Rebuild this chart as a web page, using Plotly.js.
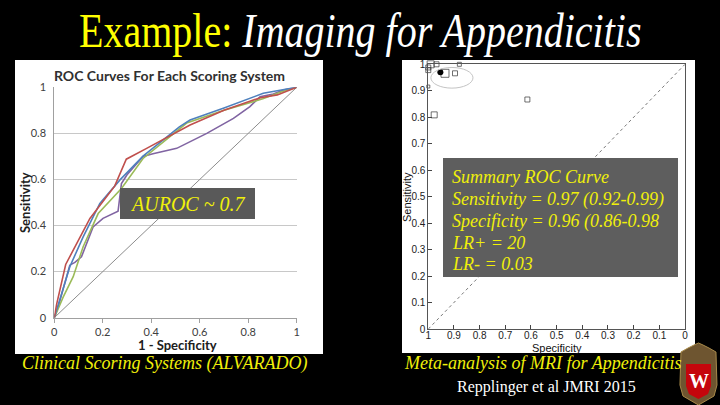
<!DOCTYPE html>
<html>
<head>
<meta charset="utf-8">
<script src="https://cdn.plot.ly/plotly-3.0.1.min.js"></script>
<style>
html,body{margin:0;padding:0;background:#000;}
#chart{width:720px;height:405px;}
</style>
</head>
<body>
<div id="chart"></div>
<script>
// ---------- Left chart: ROC curves for each scoring system (x = 1 - specificity, y = sensitivity)
const redX    = [0, 0.01, 0.047, 0.147, 0.249, 0.297, 0.379, 0.468, 0.56, 0.70, 0.85, 0.92, 1];
const redY    = [0, 0.06, 0.231, 0.431, 0.571, 0.688, 0.734, 0.785, 0.836, 0.90, 0.955, 0.967, 1];
const blueX   = [0, 0.03, 0.064, 0.119, 0.188, 0.27, 0.366, 0.516, 0.56, 0.70, 0.862, 1];
const blueY   = [0, 0.10, 0.221, 0.351, 0.496, 0.597, 0.701, 0.828, 0.858, 0.91, 0.974, 1];
const greenX  = [0, 0.037, 0.078, 0.119, 0.181, 0.277, 0.366, 0.516, 0.546, 0.70, 0.86, 0.938, 1];
const greenY  = [0, 0.09, 0.178, 0.308, 0.452, 0.561, 0.691, 0.821, 0.845, 0.90, 0.95, 0.981, 1];
const purpleX = [0, 0.016, 0.064, 0.085, 0.112, 0.160, 0.201, 0.263, 0.277, 0.30, 0.366, 0.407, 0.505, 0.629, 0.739, 0.807, 0.849, 0.904, 0.945, 1];
const purpleY = [0, 0.048, 0.228, 0.24, 0.264, 0.394, 0.431, 0.462, 0.582, 0.62, 0.70, 0.712, 0.735, 0.80, 0.865, 0.916, 0.959, 0.971, 0.988, 1];
const chanceX = [0, 1];
const chanceY = [0, 1];
const leftTickVals = [0, 0.2, 0.4, 0.6, 0.8, 1];
const leftTickText = ['0', '0.2', '0.4', '0.6', '0.8', '1'];

// ---------- Right chart: meta-analysis of MRI studies (x = specificity, y = sensitivity)
const studySpec = [0.991, 0.968, 0.879, 1.0, 1.0, 0.935, 0.896, 1.0, 0.977, 0.614];
const studySens = [1.0, 1.0, 1.0, 0.988, 0.978, 0.966, 0.966, 0.916, 0.809, 0.867];
const studyWeight = [7, 5, 4, 5, 5, 8, 5, 3, 6, 5];
const summarySpec = [0.953];
const summarySens = [0.970];
const refLineSpec = [1, 0];
const refLineSens = [0, 1];
const rightTickVals = [0, 0.1, 0.2, 0.3, 0.4, 0.5, 0.6, 0.7, 0.8, 0.9, 1];
const rightTickText = ['0', '0.1', '0.2', '0.3', '0.4', '0.5', '0.6', '0.7', '0.8', '0.9', '1'];

// ---------- Text
const titleText = '<span style="color:#ffff00">Example:</span> <i>Imaging for Appendicitis</i>';
const summaryLines = ['Summary ROC Curve', 'Sensitivity = 0.97 (0.92-0.99)', 'Specificity = 0.96 (0.86-0.98', 'LR+ = 20', 'LR- = 0.03'];

// pixel -> paper helpers (layout decoration only)
const P = px => px / 720;
const Q = py => 1 - py / 405;
const path = pts => pts.map((p, i) => (i ? 'L' : 'M') + P(p[0]).toFixed(4) + ',' + Q(p[1]).toFixed(4)).join(' ') + ' Z';

const SERIF = '"Liberation Serif", "Times New Roman", serif';
const CAL = 'Lato, "Open Sans", sans-serif';
const ARIAL = '"Liberation Sans", Arial, sans-serif';
const YEL = '#f0f00a';

const traces = [
  {x: chanceX, y: chanceY, xaxis: 'x', yaxis: 'y', mode: 'lines', line: {color: '#8c8c8c', width: 1}},
  {x: purpleX, y: purpleY, xaxis: 'x', yaxis: 'y', mode: 'lines', line: {color: '#8064A2', width: 1.6}},
  {x: greenX, y: greenY, xaxis: 'x', yaxis: 'y', mode: 'lines', line: {color: '#9BBB59', width: 1.6}},
  {x: blueX, y: blueY, xaxis: 'x', yaxis: 'y', mode: 'lines', line: {color: '#4F81BD', width: 1.6}},
  {x: redX, y: redY, xaxis: 'x', yaxis: 'y', mode: 'lines', line: {color: '#C0504D', width: 1.6}},
  {x: refLineSpec, y: refLineSens, xaxis: 'x2', yaxis: 'y2', mode: 'lines', line: {color: '#777', width: 1, dash: 'dot'}},
  {x: studySpec, y: studySens, xaxis: 'x2', yaxis: 'y2', mode: 'markers', cliponaxis: false,
   marker: {symbol: 'square-open', size: studyWeight, color: '#333', line: {width: 1}}},
  {x: summarySpec, y: summarySens, xaxis: 'x2', yaxis: 'y2', mode: 'markers', cliponaxis: false,
   marker: {symbol: 'circle', size: 6, color: '#000'}}
];

const ann = (x, y, text, font, extra) => Object.assign({xref: 'paper', yref: 'paper', x: P(x), y: Q(y),
  xanchor: 'center', yanchor: 'middle', showarrow: false, text: text, font: font}, extra || {});

const annotations = [
  ann(360, 34, titleText, {family: SERIF, size: 40, color: '#ffffff'}),
  ann(169, 75.5, '<b>ROC Curves For Each Scoring System</b>', {family: CAL, size: 14, color: '#303030'}),
  ann(177, 345, '<b>1 - Specificity</b>', {family: CAL, size: 13, color: '#202020'}),
  ann(25, 203, '<b>Sensitivity</b>', {family: CAL, size: 13, color: '#202020'}, {textangle: -90}),
  ann(557, 347.5, 'Specificity', {family: ARIAL, size: 11, color: '#111'}),
  ann(407, 197, 'Sensitivity', {family: ARIAL, size: 11, color: '#111'}, {textangle: -90}),
  ann(187.5, 204, '<i>AUROC ~ 0.7</i>', {family: SERIF, size: 20, color: YEL}),
  ann(164, 363, '<i>Clinical Scoring Systems (ALVARADO)</i>', {family: SERIF, size: 18, color: YEL}),
  ann(542.5, 363, '<i>Meta-analysis of MRI for Appendicitis</i>', {family: SERIF, size: 18, color: YEL}),
  ann(546, 387, 'Repplinger et al JMRI 2015', {family: SERIF, size: 16, color: '#ffffff'}),
  ann(698.5, 381, '<b>W</b>', {family: SERIF, size: 20, color: '#ffffff'})
];
const lineY = [177, 199, 221, 243, 264];
summaryLines.forEach((t, i) => annotations.push(
  ann(450, lineY[i], '<i>' + t + '</i>', {family: SERIF, size: 18, color: YEL}, {xanchor: 'left'})
));

const shapes = [
  {type: 'rect', xref: 'paper', yref: 'paper', x0: P(15), x1: P(323), y0: Q(354), y1: Q(60), fillcolor: '#ffffff', line: {width: 0}, layer: 'below'},
  {type: 'rect', xref: 'paper', yref: 'paper', x0: P(402), x1: P(695), y0: Q(353), y1: Q(60), fillcolor: '#ffffff', line: {width: 0}, layer: 'below'},
  {type: 'circle', xref: 'x2', yref: 'y2', x0: 0.99, x1: 0.826, y0: 0.91, y1: 0.988, line: {color: '#c4c4c4', width: 1}, layer: 'above'},
  {type: 'rect', xref: 'paper', yref: 'paper', x0: P(120), x1: P(255), y0: Q(219), y1: Q(188), fillcolor: '#595959', line: {width: 0}, layer: 'above'},
  {type: 'rect', xref: 'paper', yref: 'paper', x0: P(443), x1: P(678), y0: Q(277), y1: Q(158), fillcolor: '#5e5e5e', line: {width: 0}, layer: 'above'},
  // crest
  {type: 'path', xref: 'paper', yref: 'paper', layer: 'above', fillcolor: '#6e5530', line: {color: '#a88a4a', width: 1},
   path: path([[681, 352], [688, 348], [694, 345], [698.5, 343], [703, 345], [709, 348], [716, 352], [717, 385], [714, 396], [698.5, 405], [683, 396], [680, 385]])},
  {type: 'path', xref: 'paper', yref: 'paper', layer: 'above', fillcolor: '#c5050c', line: {width: 0},
   path: path([[686, 364], [711, 364], [711, 386], [708, 394], [698.5, 399], [689, 394], [686, 386]])}
];

const layout = {
  width: 720, height: 405,
  margin: {l: 0, r: 0, t: 0, b: 0},
  paper_bgcolor: '#000000', plot_bgcolor: 'rgba(0,0,0,0)',
  showlegend: false,
  xaxis: {domain: [P(54.3), P(296.7)], range: [0, 1], anchor: 'y', fixedrange: true,
    tickvals: leftTickVals, ticktext: leftTickText, ticks: 'outside', ticklen: 4, tickcolor: '#a0a0a0',
    showline: true, linecolor: '#a0a0a0', linewidth: 1, showgrid: false, zeroline: false,
    tickfont: {family: CAL, size: 11, color: '#404040'}},
  yaxis: {domain: [Q(317.7), Q(87.3)], range: [0, 1], anchor: 'x', fixedrange: true,
    tickvals: leftTickVals, ticktext: leftTickText, ticks: '', ticklabelstandoff: 5,
    showline: true, linecolor: '#a0a0a0', linewidth: 1,
    showgrid: true, gridcolor: '#c8c8c8', gridwidth: 1, zeroline: false,
    tickfont: {family: CAL, size: 11, color: '#404040'}},
  xaxis2: {domain: [P(428.3), P(685)], range: [1, 0], anchor: 'y2', fixedrange: true,
    tickvals: rightTickVals, ticktext: rightTickText, ticks: 'inside', ticklen: 4, tickcolor: '#444',
    ticklabelstandoff: -3,
    showline: true, mirror: true, linecolor: '#555', linewidth: 1, showgrid: false, zeroline: false,
    tickfont: {family: ARIAL, size: 10, color: '#222'}},
  yaxis2: {domain: [Q(329), Q(64.3)], range: [0, 1], anchor: 'x2', fixedrange: true,
    tickvals: rightTickVals, ticktext: rightTickText, ticks: 'inside', ticklen: 4, tickcolor: '#444',
    showline: true, mirror: true, linecolor: '#555', linewidth: 1, showgrid: false, zeroline: false,
    tickfont: {family: ARIAL, size: 10, color: '#222'}},
  shapes: shapes,
  annotations: annotations
};

Plotly.newPlot('chart', traces, layout, {staticPlot: true, displayModeBar: false}).then(() => {
  // the slide title is set in a tall, condensed face: stretch it vertically about its baseline
  const t = document.querySelector('#chart .annotation text.annotation-text');
  if (t) {
    const b = parseFloat(t.getAttribute('y')) || 0;
    t.setAttribute('transform', 'translate(0,' + b + ') scale(1,1.2) translate(0,' + (-b) + ')');
  }
});
</script>
</body>
</html>
